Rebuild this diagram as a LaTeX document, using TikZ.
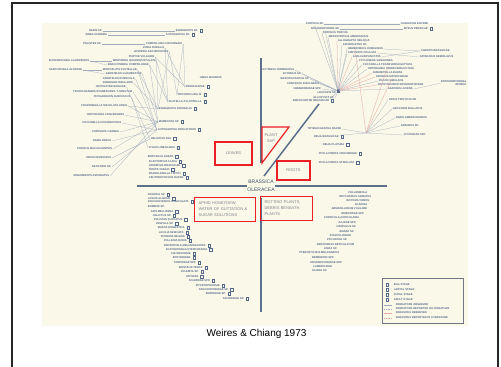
\documentclass[tikz,border=0pt]{standalone}
\usepackage{fontspec}
\setmainfont{Liberation Sans}
\usetikzlibrary{positioning}
\definecolor{cream}{RGB}{250,248,232}
\definecolor{sppblue}{RGB}{84,104,138}
\definecolor{linkgray}{RGB}{160,172,190}
\definecolor{linkpink}{RGB}{232,168,168}
\definecolor{axisblue}{RGB}{92,112,140}
\definecolor{boxred}{RGB}{236,32,36}
\definecolor{boxgray}{RGB}{125,130,140}
\definecolor{hostblue}{RGB}{62,80,108}
\tikzset{
    spp/.style={font=\fontsize{2.7}{3}\selectfont\bfseries, text=sppblue, inner sep=0.6pt},
    stg/.style={draw=sppblue, line width=0.3pt, minimum width=2.2pt, minimum height=2.8pt, inner sep=0pt},
    stgd/.style={label={[stg,label distance=1.2pt]right:{}}},
    link/.style={draw=linkgray, line width=0.25pt},
    plink/.style={draw=linkpink, line width=0.3pt},
    axis/.style={draw=axisblue, line width=1.5pt},
    redbox/.style={draw=boxred, line width=1.2pt},
    boxtxt/.style={font=\fontsize{4}{6}\selectfont, text=boxgray}
}

\begin{document}
\begin{tikzpicture}[x=1pt,y=-1pt]
    \useasboundingbox (0,0) rectangle (501,367);
    \fill[white] (0,0) rectangle (501,367);
    \draw[line width=1.6pt,black!85] (12,367) -- (12,3) -- (498,3) -- (498,367);
    \fill[cream] (42,23) rectangle (468,326);

    % axes
    \draw[axis] (137,186) -- (247,186);
    \draw[axis] (275,186) -- (387,186);
    \draw[axis] (261,58) -- (261,163);
    \draw[axis] (261,198) -- (261,312);
    \draw[axis] (264,176) -- (319,104);
    \node[font=\fontsize{5}{8}\selectfont, text=hostblue, align=center] (host) at (261,186) {BRASSICA\\OLERACEA};

    % food sources
    \node[redbox, boxtxt, minimum width=37pt, minimum height=23pt] (leaves) at (233.5,153.5) {LEAVES};
    \node[redbox, boxtxt, minimum width=33pt, minimum height=19pt] (roots) at (293.5,170.5) {ROOTS};
    \draw[redbox] (262,127) -- (289,127) -- (262,163) -- cycle;
    \node[boxtxt, align=center] (sap) at (271,138) {PLANT\\SAP};
    \node[redbox, boxtxt, anchor=north west, text width=53pt, inner xsep=4pt, minimum height=24pt, align=left] (honey) at (194,197) {APHID HONEYDEW,\\WATER OF GUTTATION \&\\SUGAR SOLUTIONS};
    \node[redbox, boxtxt, anchor=north west, text width=44pt, inner xsep=4pt, minimum height=24pt, align=left] (rot) at (260,196) {ROTTING PLANTS,\\DEBRIS BENEATH\\PLANTS};

    % leaves
    \node[spp,anchor=east] (ula) at (103,31) {NABIS SP.};
    \node[spp,anchor=west,stgd] (ulb) at (175,31) {EVERGESTIS SP.};
    \node[spp,anchor=east] (ulc) at (108,35) {SINEA DIADEMA};
    \node[spp,anchor=west,stgd] (uld) at (165,35) {AUTOGRAPHA SP.};
    \node[spp,anchor=east] (ule) at (102,44) {POLISTES SP.};
    \node[spp,anchor=west] (ulf) at (145,44) {COMPSILURA CONCINNATA};
    \node[spp,anchor=west] (uls1) at (142,48) {VORIA RURALIS};
    \node[spp,anchor=west] (uls2) at (133,52) {LESPESIA ARCHIPPIVORA};
    \node[spp,anchor=west] (uls3) at (128,57) {PHRYXE VULGARIS};
    \node[spp,anchor=west] (uls4) at (112,61) {WINTHEMIA QUADRIPUSTULATA};
    \node[spp,anchor=west] (uls5) at (107,65) {BRACHYMERIA COMPSILURAE};
    \node[spp,anchor=west] (uls6) at (102,70) {MICROPLITIS PLUTELLAE};
    \node[spp,anchor=west] (uls7) at (105,74) {APANTELES GLOMERATUS};
    \node[spp,anchor=west] (uls8) at (102,79) {APANTELES RUBECULA};
    \node[spp,anchor=west] (uls9) at (102,83) {DIADEGMA INSULARIS};
    \node[spp,anchor=west] (uls10) at (95,87) {HYPOSOTER EXIGUAE};
    \node[spp,anchor=east] (uls11) at (133,92) {TRICHOGRAMMA EVANESCENS, T. MINUTUM};
    \node[spp,anchor=west] (uls12) at (93,97) {PHYGADEUON SUBFUSCUS};
    \node[spp,anchor=east] (ulp1) at (90,61) {EUPHOROCERA CLARIPENNIS};
    \node[spp,anchor=east] (ulp2) at (83,70) {SARCOPHAGA ALDRICHI};
    \node[spp,anchor=east] (ulq1) at (128,106) {COLEOMEGILLA MACULATA LENGI};
    \node[spp,anchor=east] (ulq2) at (125,115) {HIPPODAMIA CONVERGENS};
    \node[spp,anchor=east] (ulq3) at (122,123) {COCCINELLA NOVEMNOTATA};
    \node[spp,anchor=east] (ulq4) at (120,132) {CHRYSOPA CARNEA};
    \node[spp,anchor=east] (ulq5) at (112,141) {NABIS FERUS};
    \node[spp,anchor=east] (ulq6) at (113,149) {PODISUS MACULIVENTRIS};
    \node[spp,anchor=east] (ulq7) at (112,158) {ORIUS INSIDIOSUS};
    \node[spp,anchor=east] (ulq8) at (112,167) {GEOCORIS SP.};
    \node[spp,anchor=east] (ulq9) at (110,176) {MISUMENOPS ASPERATUS};
    \node[spp,anchor=west] (ult0) at (199,78) {LIMAX MAXIMUS};
    \node[spp,anchor=west,stgd] (ult1) at (185,87) {PIERIS RAPAE};
    \node[spp,anchor=west,stgd] (ult2) at (177,95) {TRICHOPLUSIA NI};
    \node[spp,anchor=west,stgd] (ult3) at (168,102) {PLUTELLA XYLOSTELLA};
    \node[spp,anchor=west,stgd] (ult4) at (158,109) {EVERGESTIS RIMOSALIS};
    \node[spp,anchor=west,stgd] (ult5) at (158,122) {MAMESTRA SP.};
    \node[spp,anchor=west,stgd] (ult6) at (157,130) {AUTOGRAPHA PRECATIONIS};
    \node[spp,anchor=west,stgd] (ult7) at (150,139) {HELIOTHIS ZEA};
    \node[spp,anchor=west,stgd] (ult8) at (148,148) {LYGUS LINEOLARIS};
    \node[spp,anchor=west,stgd] (ult9) at (147,157) {EMPOASCA FABAE};
    \node[spp,anchor=west,stgd] (ultA) at (148,162) {SCAPTOMYZA FLAVA};
    \node[spp,anchor=west,stgd] (ultB) at (148,166) {LIRIOMYZA BRASSICAE};
    \node[spp,anchor=west,stgd] (ultC) at (148,170) {THRIPS TABACI};
    \node[spp,anchor=west,stgd] (ultD) at (148,174) {FRANKLINIELLA TRITICI};
    \node[spp,anchor=west,stgd] (ultE) at (148,178) {CEUTORHYNCHUS RAPAE};

    \draw[link] (ula) -- (ulb);
    \draw[link] (ulc) -- (uld);
    \draw[link] (ule) -- (ulf);
    \draw[link] (ulf.east) -- (ult1.west);
    \draw[link] (ulf.east) -- (ult2.west);
    \draw[link] (uls1.east) -- (ult1.west);
    \draw[link] (uls1.east) -- (ult3.west);
    \draw[link] (uls2.east) -- (ult2.west);
    \draw[link] (uls2.east) -- (ult4.west);
    \draw[link] (uls3.east) -- (ult3.west);
    \draw[link] (uls3.east) -- (ult1.west);
    \draw[link] (uls4.east) -- (ult4.west);
    \draw[link] (uls5.east) -- (ult3.west);
    \draw[link] (uls5.east) -- (ult5.west);
    \draw[link] (uls6.east) -- (ult4.west);
    \draw[link] (uls6.east) -- (ult6.west);
    \draw[link] (uls7.east) -- (ult5.west);
    \draw[link] (uls8.east) -- (ult6.west);
    \draw[link] (uls9.east) -- (ult4.west);
    \draw[link] (uls10.east) -- (ult7.west);
    \draw[link] (uls11.east) -- (ult6.west);
    \draw[link] (uls12.east) -- (ult8.west);
    \draw[link] (ulp1.east) -- (uls4.west);
    \draw[link] (ulp1.east) -- (uls5.west);
    \draw[link] (ulp2.east) -- (uls6.west);
    \draw[link] (ulp2.east) -- (uls7.west);
    \draw[link] (ulq1.east) -- (ult4.west);
    \draw[link] (ulq1.east) -- (ult5.west);
    \draw[link] (ulq2.east) -- (ult5.west);
    \draw[link] (ulq3.east) -- (ult6.west);
    \draw[link] (ulq4.east) -- (ult5.west);
    \draw[link] (ulq5.east) -- (ult6.west);
    \draw[link] (ulq6.east) -- (ult5.west);
    \draw[link] (ulq7.east) -- (ult7.west);
    \draw[link] (ulq8.east) -- (ult6.west);
    \draw[link] (ulq9.east) -- (ult5.west);

    % plant sap
    \node[spp,anchor=west] (ura) at (305,24) {SYRPHUS SP.};
    \node[spp,anchor=west] (urb) at (400,24) {HYADAPHIS ERYSIMI};
    \node[spp,anchor=west] (urc) at (310,29) {SPHAEROPHORIA SP.};
    \node[spp,anchor=west,stgd] (urd) at (403,29) {MYZUS PERSICAE};
    \node[spp,anchor=west] (urs1) at (322,33) {SYRPHUS TORVUS};
    \node[spp,anchor=west] (urs2) at (328,37) {METASYRPHUS AMERICANUS};
    \node[spp,anchor=west] (urs3) at (337,41) {ALLOGRAPTA OBLIQUA};
    \node[spp,anchor=west] (urs4) at (342,45) {APHIDOLETES SP.};
    \node[spp,anchor=west] (urs5) at (347,49) {HEMEROBIUS HUMULINUS};
    \node[spp,anchor=west] (urs6) at (347,53) {CHRYSOPA OCULATA};
    \node[spp,anchor=west] (urs7) at (352,57) {ADALIA BIPUNCTATA};
    \node[spp,anchor=west] (urs8) at (358,61) {CYCLONEDA SANGUINEA};
    \node[spp,anchor=west] (urs9) at (362,65) {COCCINELLA TRANSVERSOGUTTATA};
    \node[spp,anchor=west] (urs10) at (367,69) {HIPPODAMIA TREDECIMPUNCTATA};
    \node[spp,anchor=west] (urs11) at (372,73) {DIAERETIELLA RAPAE};
    \node[spp,anchor=west] (urs12) at (375,77) {APHIDIUS MATRICARIAE};
    \node[spp,anchor=west] (urs13) at (378,81) {PRAON SIMULANS};
    \node[spp,anchor=west] (urs14) at (377,85) {PACHYNEURON SIPHONOPHORAE};
    \node[spp,anchor=west] (urs15) at (387,89) {ASAPHES LUCENS};
    \node[spp,anchor=west] (ure) at (420,51) {CHARIPS BRASSICAE};
    \node[spp,anchor=west] (urf) at (419,57) {APHELINUS SEMIFLAVUS};
    \node[spp,anchor=north east,align=right] (urg) at (467,80) {ENTOMOPHTHORA\\APHIDIS};
    \node[spp,anchor=east] (urk1) at (295,70) {SCYMNUS TERMINATUS};
    \node[spp,anchor=east] (urk2) at (302,74) {SCYMNUS SP.};
    \node[spp,anchor=east] (urk3) at (310,79) {BRACHIACANTHA SP.};
    \node[spp,anchor=east] (urk4) at (320,84) {CHRYSOPA RUFILABRIS};
    \node[spp,anchor=east] (urk5) at (322,89) {HEMEROBIIDAE SPP.};
    \node[spp,anchor=east] (urk6) at (337,93) {LEUCOPIS SP.};
    \node[spp,anchor=east] (urk7) at (335,98) {ALLOXYSTA SP.};
    \node[spp,anchor=west,stgd] (urk8) at (292,101) {BREVICORYNE BRASSICAE};
    \node[stg,fill=sppblue] (hubR) at (338,91) {};
    \node[spp,anchor=west] (urt1) at (388,100) {ORIUS TRISTICOLOR};
    \node[spp,anchor=west] (urt2) at (392,109) {GEOCORIS BULLATUS};
    \node[spp,anchor=west] (urt3) at (395,118) {NABIS AMERICOFERUS};
    \node[spp,anchor=west] (urt4) at (400,126) {ARANEUS SP.};
    \node[spp,anchor=west] (urt5) at (403,135) {LYCOSIDAE SPP.};

    % roots
    \node[spp,anchor=west] (urr1) at (307,129) {TRYBLIOGRAPHA RAPAE};
    \node[spp,anchor=west,stgd] (urr2) at (313,137) {DELIA BRASSICAE};
    \node[spp,anchor=west,stgd] (urr3) at (322,145) {DELIA PLATURA};
    \node[spp,anchor=west,stgd] (urr4) at (318,154) {PHYLLOTRETA CRUCIFERAE};
    \node[spp,anchor=west,stgd] (urr5) at (318,163) {PHYLLOTRETA STRIOLATA};
    \coordinate (hubRb) at (366,133);

    \draw[link] (ura) -- (urb);
    \draw[link] (urc) -- (urd);
    \draw[link] (ura.south) -- (hubR);
    \draw[link] (urc.south) -- (hubR);
    \draw[link] (urs1.west) -- (hubR);
    \draw[link] (urs2.west) -- (hubR);
    \draw[plink] (urs3.west) -- (hubR);
    \draw[link] (urs4.west) -- (hubR);
    \draw[link] (urs5.west) -- (hubR);
    \draw[link] (urs6.west) -- (hubR);
    \draw[plink] (urs7.west) -- (hubR);
    \draw[link] (urs8.west) -- (hubR);
    \draw[link] (urs9.west) -- (hubR);
    \draw[link] (urs10.west) -- (hubR);
    \draw[plink] (urs11.west) -- (hubR);
    \draw[plink] (urs12.west) -- (hubR);
    \draw[link] (urs13.west) -- (hubR);
    \draw[plink] (urs14.west) -- (hubR);
    \draw[link] (urs15.west) -- (hubR);
    \draw[link] (urs5.east) -- (ure.west);
    \draw[link] (urs7.east) -- (ure.west);
    \draw[link] (urs6.east) -- (urf.west);
    \draw[link] (urs15.east) -- (urg.west);
    \draw[link] (urk1.east) -- (hubR);
    \draw[link] (urk2.east) -- (hubR);
    \draw[link] (urk3.east) -- (hubR);
    \draw[link] (urk4.east) -- (hubR);
    \draw[link] (urk5.east) -- (hubR);
    \draw[link] (urk6.east) -- (hubR);
    \draw[link] (urk7.east) -- (hubR);
    \draw[link] (urk8.north east) -- (hubR);
    \draw[link] (urr1.east) -- (hubRb);
    \draw[link] (urr2.north east) -- (hubRb);
    \draw[link] (hubRb) -- (urt1.west);
    \draw[link] (hubRb) -- (urt2.west);
    \draw[link] (hubRb) -- (urt3.west);
    \draw[link] (hubRb) -- (urt4.west);
    \draw[link] (hubRb) -- (urt5.west);
    \draw[plink] (hubRb) -- (urs12.south);
    \draw[plink] (hubRb) -- (urs9.south);
    \draw[plink] (hubRb) -- (urs4.south);

    % honeydew
    \node[spp,anchor=west,stgd] (hl1) at (147,195) {FORMICA SP.};
    \node[spp,anchor=west,stgd] (hl2) at (147,199) {LASIUS ALIENUS};
    \node[spp,anchor=west,stgd] (hl3) at (147,202) {DOLICHOVESPULA MACULATA};
    \node[spp,anchor=west] (hl4) at (147,207) {BOMBUS SP.};
    \node[spp,anchor=west,stgd] (hl5) at (150,212) {APIS MELLIFERA};
    \node[spp,anchor=west,stgd] (hl6) at (152,216) {HALICTUS SP.};
    \node[spp,anchor=west,stgd] (hl7) at (153,220) {POLISTES FUSCATUS};
    \node[spp,anchor=west,stgd] (hl8) at (155,224) {VESPULA SP.};
    \node[spp,anchor=west,stgd] (hl9) at (157,228) {MUSCA DOMESTICA};
    \node[spp,anchor=west,stgd] (hl10) at (158,233) {LUCILIA SERICATA};
    \node[spp,anchor=west,stgd] (hl11) at (160,237) {PHORMIA REGINA};
    \node[spp,anchor=west,stgd] (hl12) at (163,241) {POLLENIA RUDIS};
    \node[spp,anchor=west,stgd] (hl13) at (163,246) {DROSOPHILA MELANOGASTER};
    \node[spp,anchor=west,stgd] (hl14) at (165,250) {SCATHOPHAGA STERCORARIA};
    \node[spp,anchor=west,stgd] (hl15) at (170,254) {CHLOROPIDAE};
    \node[spp,anchor=west,stgd] (hl16) at (172,258) {EPHYDRIDAE};
    \node[spp,anchor=west,stgd] (hl17) at (173,263) {SYRPHIDAE SPP.};
    \node[spp,anchor=west,stgd] (hl18) at (178,268) {ERISTALIS TENAX};
    \node[spp,anchor=west,stgd] (hl19) at (180,272) {HYLEMYA SP.};
    \node[spp,anchor=west,stgd] (hl20) at (185,277) {OTITIDAE};
    \node[spp,anchor=west,stgd] (hl21) at (188,281) {SCIARIDAE SPP.};
    \node[spp,anchor=west,stgd] (hl22) at (195,286) {MYCETOPHILIDAE};
    \node[spp,anchor=west,stgd] (hl23) at (198,290) {DOLICHOPODIDAE SP.};
    \node[spp,anchor=west,stgd] (hl24) at (205,294) {EMPIDIDAE SP.};
    \node[spp,anchor=west,stgd] (hl25) at (222,299) {TACHINIDAE SP.};

    % debris
    \node[spp,anchor=east] (dl1) at (368,193) {COLLEMBOLA};
    \node[spp,anchor=east] (dl2) at (372,197) {ONYCHIURUS ARMATUS};
    \node[spp,anchor=east] (dl3) at (370,201) {ISOTOMA VIRIDIS};
    \node[spp,anchor=east] (dl4) at (368,205) {ACARINA};
    \node[spp,anchor=east] (dl5) at (368,209) {ARMADILLIDIUM VULGARE};
    \node[spp,anchor=east] (dl6) at (365,214) {ORIBATIDAE SPP.};
    \node[spp,anchor=east] (dl7) at (360,218) {FORFICULA AURICULARIA};
    \node[spp,anchor=east] (dl8) at (357,223) {JULIDAE SPP.};
    \node[spp,anchor=east] (dl9) at (357,227) {HARPALUS SP.};
    \node[spp,anchor=east] (dl10) at (355,232) {AMARA SP.};
    \node[spp,anchor=east] (dl11) at (352,236) {STAPHYLINIDAE};
    \node[spp,anchor=east] (dl12) at (348,240) {PSYCHODA SP.};
    \node[spp,anchor=east] (dl13) at (355,245) {DEROCERAS RETICULATUM};
    \node[spp,anchor=east] (dl14) at (338,249) {LIMAX SP.};
    \node[spp,anchor=east] (dl15) at (340,253) {PTEROSTICHUS MELANARIUS};
    \node[spp,anchor=east] (dl16) at (335,258) {BEMBIDION SPP.};
    \node[spp,anchor=east] (dl17) at (343,263) {SPHAEROCERIDAE SPP.};
    \node[spp,anchor=east] (dl18) at (333,267) {LUMBRICIDAE};
    \node[spp,anchor=east] (dl19) at (328,271) {SCIARA SP.};

    % legend
    \node[draw=linkgray!70!black, line width=0.4pt, anchor=north west, minimum width=81pt, minimum height=45pt, inner sep=0pt] (legend) at (382,278) {};
    \node[stg] (lg1) at (387,285) {};
    \node[stg] (lg2) at (387,290) {};
    \node[stg] (lg3) at (387,295) {};
    \node[stg] (lg4) at (387,300) {};
    \node[spp,anchor=west] (lg1t) at (393,285) {EGG STAGE};
    \node[spp,anchor=west] (lg2t) at (393,290) {LARVAL STAGE};
    \node[spp,anchor=west] (lg3t) at (393,295) {PUPAL STAGE};
    \node[spp,anchor=west] (lg4t) at (393,300) {ADULT STAGE};
    \coordinate (lk1a) at (384,305);
    \coordinate (lk1b) at (392,305);
    \coordinate (lk2a) at (384,309);
    \coordinate (lk2b) at (392,309);
    \coordinate (lk3a) at (384,313);
    \coordinate (lk3b) at (392,313);
    \coordinate (lk4a) at (384,318);
    \coordinate (lk4b) at (392,318);
    \draw[link] (lk1a) -- (lk1b);
    \draw[link,dash pattern=on 1pt off 0.8pt] (lk2a) -- (lk2b);
    \draw[plink] (lk3a) -- (lk3b);
    \draw[plink,dash pattern=on 1pt off 0.8pt] (lk4a) -- (lk4b);
    \node[spp,anchor=west] (lk1t) at (395,305) {PREDATORS OBSERVED};
    \node[spp,anchor=west] (lk2t) at (395,309) {PREDATORS REPORTED IN LITERATURE};
    \node[spp,anchor=west] (lk3t) at (395,313) {PARASITES OBSERVED};
    \node[spp,anchor=west] (lk4t) at (395,318) {PARASITES REPORTED IN LITERATURE};

    \node[font=\fontsize{10}{12}\selectfont] (cap) at (256.5,334) {Weires \& Chiang 1973};
\end{tikzpicture}
\end{document}
